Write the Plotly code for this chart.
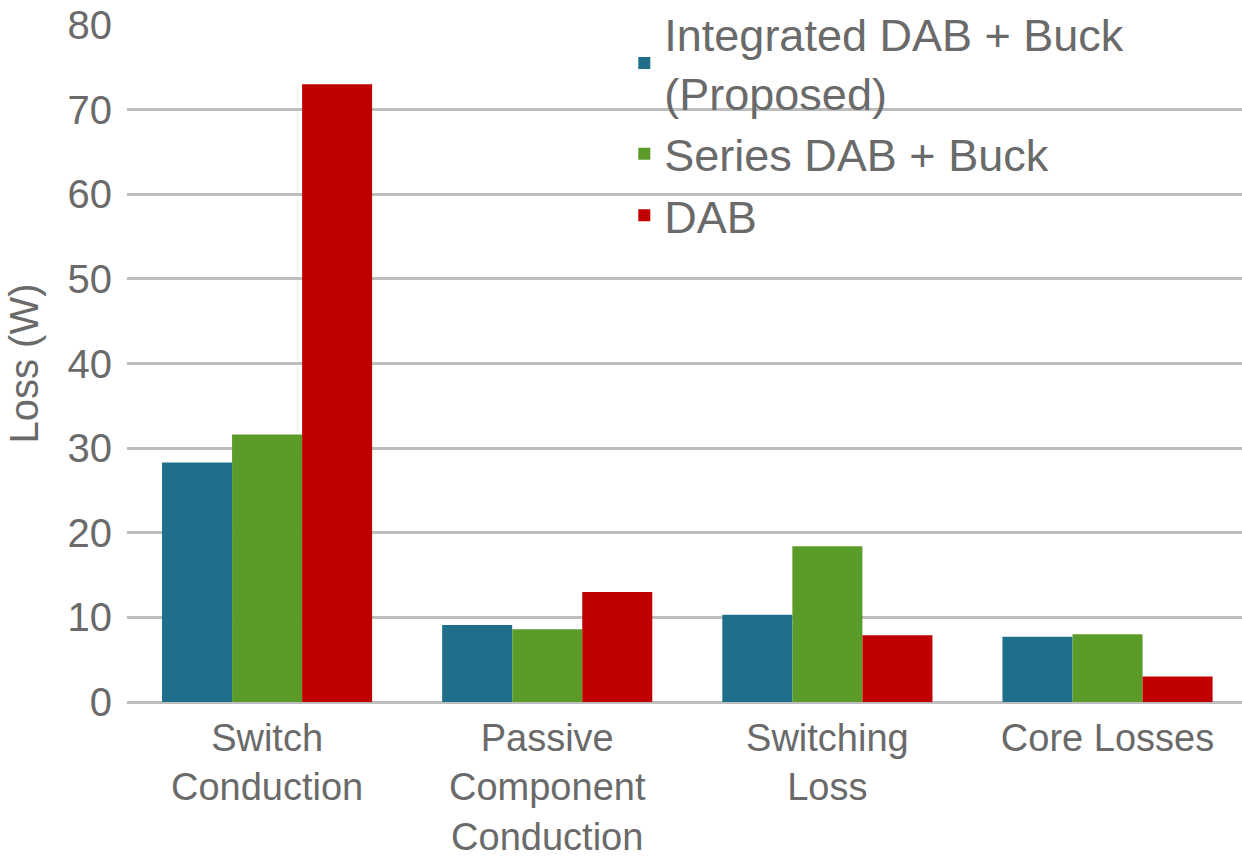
import plotly.graph_objects as go

# Loss breakdown per converter topology
categories = ["Switch<br>Conduction", "Passive<br>Component<br>Conduction", "Switching<br>Loss", "Core Losses"]
integrated_dab_buck = [28.3, 9.1, 10.3, 7.7]
series_dab_buck = [31.6, 8.6, 18.4, 8.0]
dab_only = [73.0, 13.0, 7.9, 3.0]
y_ticks = [0, 10, 20, 30, 40, 50, 60, 70, 80]

series = [
    ("Integrated DAB + Buck<br>(Proposed)", integrated_dab_buck, "#1F6E8A"),
    ("Series DAB + Buck", series_dab_buck, "#5B9B2A"),
    ("DAB", dab_only, "#C00000"),
]

text_color = "#6A6A6A"
grid_color = "#BEBEBE"
font_family = "Liberation Sans, Arial, sans-serif"

fig = go.Figure()
for name, values, color in series:
    fig.add_trace(go.Bar(
        x=categories, y=values, name=name,
        marker=dict(color=color, line=dict(width=0)),
    ))

fig.update_layout(
    width=1242, height=860,
    margin=dict(l=127, r=0, t=25, b=158, autoexpand=False),
    paper_bgcolor="white", plot_bgcolor="white",
    barmode="group", bargap=0.25, bargroupgap=0,
    font=dict(family=font_family, color=text_color, size=38),
    legend=dict(
        x=0.446, y=1.04, xanchor="left", yanchor="top",
        bgcolor="rgba(0,0,0,0)", font=dict(size=45, color=text_color),
        tracegroupgap=0,
    ),
    xaxis=dict(
        range=[-0.5, 3.48], showgrid=False, showline=False, zeroline=False,
        automargin=False, ticks="", ticklabelstandoff=10,
        tickfont=dict(size=38, color=text_color),
    ),
    yaxis=dict(
        range=[0, 80], tickvals=y_ticks, showgrid=True,
        gridcolor=grid_color, gridwidth=2.5, zeroline=True,
        zerolinecolor=grid_color, zerolinewidth=2.5,
        showline=False, ticks="", ticklabelstandoff=14, automargin=False,
        tickfont=dict(size=40, color=text_color),
        title=dict(text="Loss (W)", font=dict(size=40, color=text_color), standoff=16),
    ),
    showlegend=True,
)

fig.write_html("out.html")
